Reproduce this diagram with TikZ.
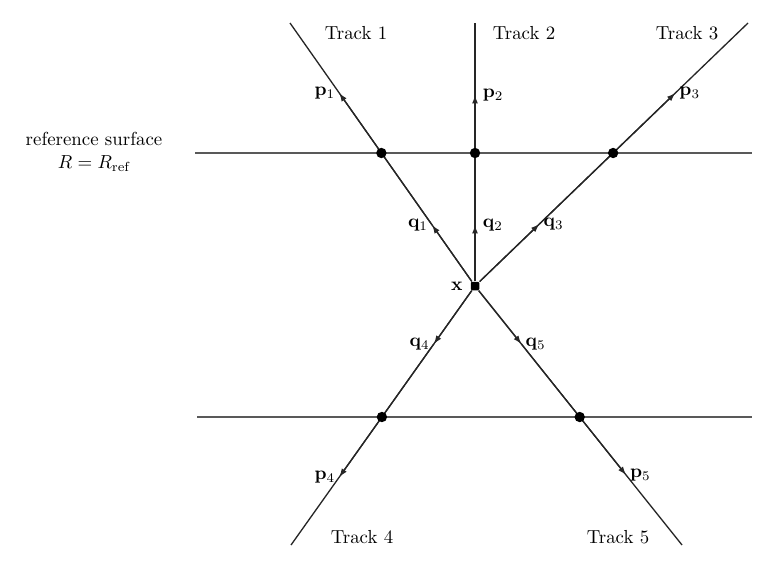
\documentclass[tikz,border=0pt]{standalone}
\usepackage{amsmath}
\usetikzlibrary{arrows.meta,positioning}

\begin{document}
\begin{tikzpicture}[
  x=0.53pt,y=-0.53pt,
  hit/.style={circle,fill=black,inner sep=0pt,minimum size=5.5pt},
  vertex/.style={rectangle,rounded corners=0.6pt,fill=black,inner sep=0pt,minimum size=4.5pt},
  track/.style={line width=0.7pt,black!85},
  trackarrow/.style={track,-{Latex[length=4.5pt,width=3.2pt]}},
  surface/.style={line width=0.7pt,black!65},
  lbl/.style={inner sep=1pt}
]
  \useasboundingbox (0,0) rectangle (775,560);

  % reference surface and second layer
  \coordinate (s1l) at (195,153);
  \coordinate (s1r) at (752,153);
  \coordinate (s2l) at (197,417);
  \coordinate (s2r) at (752,417);
  \draw[surface] (s1l) -- (s1r);
  \draw[surface] (s2l) -- (s2r);
  \node[align=center] (ref) at (94,152) {reference surface\\$R=R_{\text{ref}}$};

  % vertex and track points
  \node[vertex] (x) at (475,286) {};
  \coordinate (q1) at (432.1,225);
  \coordinate (q2) at (475,225);
  \coordinate (q3) at (539.4,224);
  \coordinate (q4) at (433.8,344);
  \coordinate (q5) at (521.4,344);
  \coordinate (p1) at (339.2,93);
  \coordinate (p2) at (475,95);
  \coordinate (p3) at (675.3,93);
  \coordinate (p4) at (339.3,477);
  \coordinate (p5) at (626,475);
  \coordinate (t1) at (290,23);
  \coordinate (t2) at (475,23);
  \coordinate (t3) at (748,23);
  \coordinate (t4) at (291,545);
  \coordinate (t5) at (682,545);

  % tracks, with direction marks at q and p
  \foreach \i in {1,...,5} {
    \draw[track] (x) -- (t\i);
    \draw[trackarrow] (x) -- (q\i);
    \draw[trackarrow] (q\i) -- (p\i);
  }

  % hits on the surfaces
  \node[hit] (h1) at (381.4,153) {};
  \node[hit] (h2) at (475,153) {};
  \node[hit] (h3) at (613.1,153) {};
  \node[hit] (h4) at (381.9,417) {};
  \node[hit] (h5) at (579.7,417) {};

  % labels
  \node[lbl,left=3pt of x] (xl) {$\mathbf{x}$};
  \node[lbl,left=1pt of q1] (q1l) {$\mathbf{q}_1$};
  \node[lbl,right=3pt of q2] (q2l) {$\mathbf{q}_2$};
  \node[lbl,right=1pt of q3] (q3l) {$\mathbf{q}_3$};
  \node[lbl,left=1pt of q4] (q4l) {$\mathbf{q}_4$};
  \node[lbl,right=1pt of q5] (q5l) {$\mathbf{q}_5$};
  \node[lbl,left=1pt of p1] (p1l) {$\mathbf{p}_1$};
  \node[lbl,right=3pt of p2] (p2l) {$\mathbf{p}_2$};
  \node[lbl,right=1pt of p3] (p3l) {$\mathbf{p}_3$};
  \node[lbl,left=1pt of p4] (p4l) {$\mathbf{p}_4$};
  \node[lbl,right=1pt of p5] (p5l) {$\mathbf{p}_5$};

  \node (tr1) at (356,33) {Track 1};
  \node (tr2) at (524,33) {Track 2};
  \node (tr3) at (687,33) {Track 3};
  \node (tr4) at (362,537) {Track 4};
  \node (tr5) at (618,537) {Track 5};
\end{tikzpicture}
\end{document}
